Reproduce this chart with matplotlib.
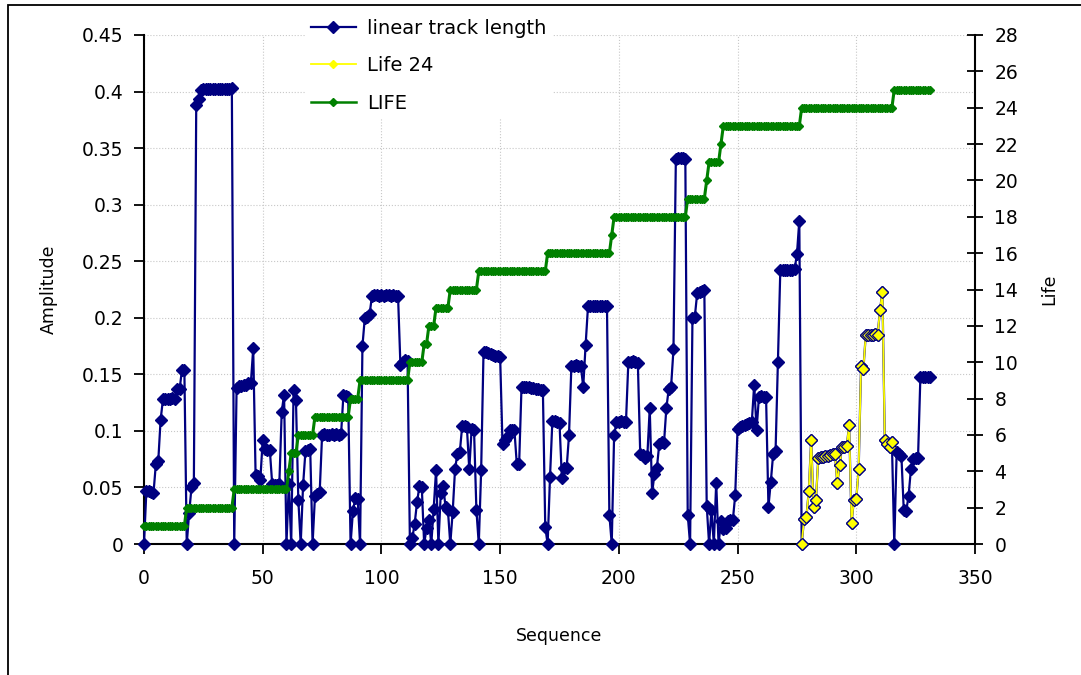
import numpy as np
import matplotlib
matplotlib.use('Agg')
import matplotlib.pyplot as plt
from matplotlib.patches import Rectangle
from matplotlib.lines import Line2D

# Amplitude of "linear track length", sequence 0..276
track_a = [
    0.0, 0.047, 0.047, 0.046, 0.045, 0.071, 0.073, 0.110, 0.128, 0.128,
    0.128, 0.128, 0.129, 0.128, 0.137, 0.137, 0.154, 0.154, 0.0, 0.027,
    0.050, 0.054, 0.388, 0.393, 0.401, 0.402, 0.402, 0.402, 0.402, 0.402,
    0.402, 0.402, 0.402, 0.402, 0.402, 0.402, 0.402, 0.403, 0.0, 0.138,
    0.140, 0.140, 0.141, 0.141, 0.142, 0.142, 0.173, 0.061, 0.060, 0.057,
    0.092, 0.084, 0.083, 0.083, 0.053, 0.052, 0.052, 0.053, 0.117, 0.132,
    0.0, 0.053, 0.0, 0.136, 0.127, 0.039, 0.0, 0.052, 0.082, 0.083,
    0.084, 0.0, 0.042, 0.044, 0.046, 0.096, 0.097, 0.096, 0.096, 0.097,
    0.096, 0.097, 0.096, 0.097, 0.132, 0.131, 0.130, 0.0, 0.029, 0.041,
    0.040, 0.0, 0.175, 0.200, 0.201, 0.203, 0.219, 0.220, 0.220, 0.219,
    0.220, 0.219, 0.220, 0.220, 0.219, 0.220, 0.219, 0.219, 0.158, 0.161,
    0.163, 0.162, 0.0, 0.005, 0.018, 0.037, 0.051, 0.050, 0.0, 0.014,
    0.021, 0.0, 0.031, 0.065, 0.0, 0.045, 0.051, 0.033, 0.030, 0.0,
    0.028, 0.066, 0.080, 0.081, 0.104, 0.104, 0.103, 0.066, 0.102, 0.101,
    0.030, 0.0, 0.065, 0.170, 0.170, 0.169, 0.168, 0.167, 0.166, 0.166,
    0.165, 0.088, 0.092, 0.095, 0.101, 0.101, 0.101, 0.071, 0.071, 0.139,
    0.139, 0.139, 0.139, 0.138, 0.138, 0.137, 0.137, 0.136, 0.136, 0.015,
    0.0, 0.059, 0.109, 0.109, 0.108, 0.107, 0.058, 0.067, 0.067, 0.096,
    0.157, 0.157, 0.158, 0.157, 0.157, 0.139, 0.176, 0.210, 0.210, 0.210,
    0.210, 0.210, 0.210, 0.210, 0.210, 0.210, 0.026, 0.0, 0.096, 0.108,
    0.108, 0.109, 0.108, 0.108, 0.161, 0.161, 0.162, 0.161, 0.160, 0.080,
    0.079, 0.076, 0.078, 0.120, 0.045, 0.062, 0.067, 0.088, 0.090, 0.089,
    0.120, 0.137, 0.139, 0.172, 0.340, 0.341, 0.341, 0.341, 0.340, 0.026,
    0.0, 0.200, 0.201, 0.222, 0.223, 0.224, 0.225, 0.034, 0.0, 0.030,
    0.0, 0.054, 0.0, 0.020, 0.013, 0.014, 0.020, 0.021, 0.021, 0.043,
    0.102, 0.103, 0.104, 0.105, 0.106, 0.107, 0.108, 0.141, 0.101, 0.130,
    0.131, 0.130, 0.130, 0.033, 0.055, 0.080, 0.082, 0.161, 0.242, 0.242,
    0.242, 0.242, 0.242, 0.242, 0.243, 0.256, 0.286,
]

# Amplitude while LIFE == 24, sequence 277..315
life24_amp = [
    0.0, 0.022, 0.024, 0.047, 0.092, 0.033, 0.039, 0.076, 0.077, 0.077,
    0.078, 0.078, 0.079, 0.080, 0.080, 0.054, 0.070, 0.086, 0.086, 0.087,
    0.105, 0.019, 0.039, 0.040, 0.066, 0.157, 0.155, 0.185, 0.185, 0.185,
    0.185, 0.186, 0.185, 0.207, 0.223, 0.092, 0.088, 0.086, 0.090,
]

# Amplitude, sequence 316..331
track_b = [
    0.0, 0.081, 0.080, 0.078, 0.030, 0.029, 0.042, 0.066, 0.075, 0.076,
    0.076, 0.148, 0.148, 0.148, 0.148, 0.148,
]

# LIFE as steps: level and how many sequence points stay at that level
life_levels = [1, 2, 3, 4, 5, 6, 7, 8, 9, 10, 11, 12, 13,
               14, 15, 16, 17, 18, 19, 20, 21, 22, 23, 24, 25]
life_counts = [18, 20, 23, 1, 3, 7, 15, 4, 21, 6, 2, 3, 6,
               12, 29, 27, 1, 31, 8, 1, 5, 1, 33, 39, 16]

x_ticks = [0, 50, 100, 150, 200, 250, 300, 350]
amp_ticks = [0, 0.05, 0.1, 0.15, 0.2, 0.25, 0.3, 0.35, 0.4, 0.45]
amp_labels = ['0', '0.05', '0.1', '0.15', '0.2', '0.25', '0.3', '0.35', '0.4', '0.45']
life_ticks = [0, 2, 4, 6, 8, 10, 12, 14, 16, 18, 20, 22, 24, 26, 28]

track = track_a + life24_amp + track_b
seq = np.arange(len(track))
seq24 = np.arange(len(track_a), len(track_a) + len(life24_amp))
life = np.repeat(life_levels, life_counts)

W, H = 1081, 675
fig = plt.figure(figsize=(W / 100, H / 100), dpi=100)
ax = fig.add_axes([144 / W, 1 - 544 / H, (975 - 144) / W, (544 - 35) / H])

navy = '#000080'
green = '#008000'
ax.plot(seq, track, color=navy, lw=1.6, marker='D', ms=6,
        mfc=navy, mec=navy, clip_on=False, zorder=3)
ax.plot(seq24, life24_amp, color='#ffff00', lw=1.3, marker='D', ms=6,
        mfc='#ffff00', mec=navy, mew=0.9, clip_on=False, zorder=4)

ax.set_xlim(0, 350)
ax.set_ylim(0, 0.45)
ax.set_xticks(x_ticks)
ax.set_yticks(amp_ticks)
ax.set_yticklabels(amp_labels)
ax.grid(True, color='#c8c8c8', lw=0.8, ls=':')
ax.set_axisbelow(True)

ax2 = ax.twinx()
ax2.plot(seq, life, color=green, lw=2.2, marker='D', ms=3.6,
         mfc=green, mec=green, clip_on=False)
ax2.set_ylim(0, 28)
ax2.set_yticks(life_ticks)

for a in (ax, ax2):
    a.spines['top'].set_visible(False)
    for s in a.spines.values():
        s.set_linewidth(1.5)
ax.spines['right'].set_visible(False)
ax2.spines['left'].set_visible(False)
ax2.spines['bottom'].set_visible(False)

ax.tick_params(axis='y', direction='out', length=7, width=1.3,
               labelsize=13.5, pad=8)
ax.tick_params(axis='x', direction='out', length=7, width=1.3,
               labelsize=13.5, pad=11)
ax2.tick_params(axis='y', direction='inout', length=12, width=1.3,
                labelsize=13.5, pad=8)

ax.set_xlabel('Sequence', fontsize=12.5, labelpad=28)
ax.set_ylabel('Amplitude', fontsize=12.5, labelpad=17)
ax2.set_ylabel('Life', fontsize=12.5, labelpad=16)

handles = [
    Line2D([], [], color=navy, lw=1.6, marker='D', ms=6, mfc=navy, mec=navy),
    Line2D([], [], color='#ffff00', lw=1.3, marker='D', ms=4,
           mfc='#ffff00', mec='#ffff00'),
    Line2D([], [], color=green, lw=1.8, marker='D', ms=4, mfc=green, mec=green),
]
fig.legend(handles, ['linear track length', 'Life 24', 'LIFE'],
           loc='upper left', bbox_to_anchor=(305 / W, 1 - 13 / H),
           frameon=True, facecolor='white', edgecolor='none', framealpha=1,
           fancybox=False, fontsize=14, handlelength=2.3, handletextpad=0.6,
           labelspacing=0.95, borderaxespad=0, borderpad=0.3)

fig.add_artist(Rectangle((8 / W, -0.02), 1.1, 1 - 5 / H + 0.02,
                         transform=fig.transFigure, fill=False,
                         ec='black', lw=1.3, clip_on=False))

fig.savefig('out.png', dpi=100)
